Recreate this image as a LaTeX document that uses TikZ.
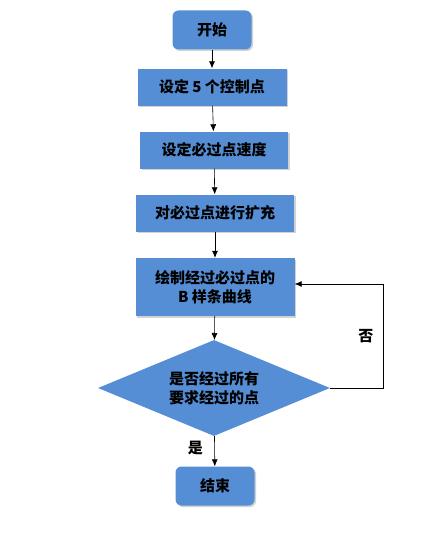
\documentclass[tikz,border=0pt]{standalone}
\usepackage{fontspec}
\setmainfont{Noto Sans CJK SC}
\usetikzlibrary{shapes.geometric,shadows,arrows.meta}
\definecolor{boxblue}{HTML}{558ED5}

\begin{document}
\begin{tikzpicture}[
  x=1pt, y=-1pt,
  font=\fontsize{15}{19}\selectfont\bfseries,
  start_end/.style={rectangle, rounded corners=6pt, fill=boxblue, minimum width=79pt, minimum height=39pt, inner sep=0pt, drop shadow={shadow xshift=1.5pt, shadow yshift=-1.5pt, fill=black!35}},
  work_box/.style={rectangle, fill=boxblue, minimum height=37pt, inner sep=0pt, drop shadow={shadow xshift=1.5pt, shadow yshift=-1.5pt, fill=black!35}},
  check_box/.style={diamond, aspect=2.42, fill=boxblue, minimum width=232pt, minimum height=96pt, inner sep=0pt, align=center},
  flow_line/.style={-{Latex[length=7pt,width=6pt]}, black, semithick},
]
\useasboundingbox (0,0) rectangle (425,551);
\draw (212,30) node (begin) [start_end] {开始};
\draw (212,87) node (ctrl) [work_box, minimum width=149pt] {设定 5 个控制点};
\draw (214,150) node (speed) [work_box, minimum width=148pt] {设定必过点速度};
\draw (215,213) node (expand) [work_box, minimum width=158pt] {对必过点进行扩充};
\draw (215,287) node (curve) [work_box, minimum width=159pt, minimum height=58pt, align=center] {绘制经过必过点的\\B 样条曲线};
\draw (214,388) node (check) [check_box] {是否经过所有\\要求经过的点};
\draw (215,486) node (finish) [start_end] {结束};
\coordinate (turn_low) at (383,388);
\coordinate (turn_high) at (383,284);
\draw [flow_line] (begin) -- (ctrl);
\draw [flow_line] (ctrl) -- (speed);
\draw [flow_line] (speed) -- (expand);
\draw [flow_line] (expand) -- (curve);
\draw [flow_line] (curve) -- (check);
\draw [flow_line] (check) -- node [left=8pt, pos=0.4] {是} (finish);
\draw [flow_line] (check.east) -- (turn_low) -- node [left=6pt] {否} (turn_high) -- (curve.east |- turn_high);
\end{tikzpicture}
\end{document}
